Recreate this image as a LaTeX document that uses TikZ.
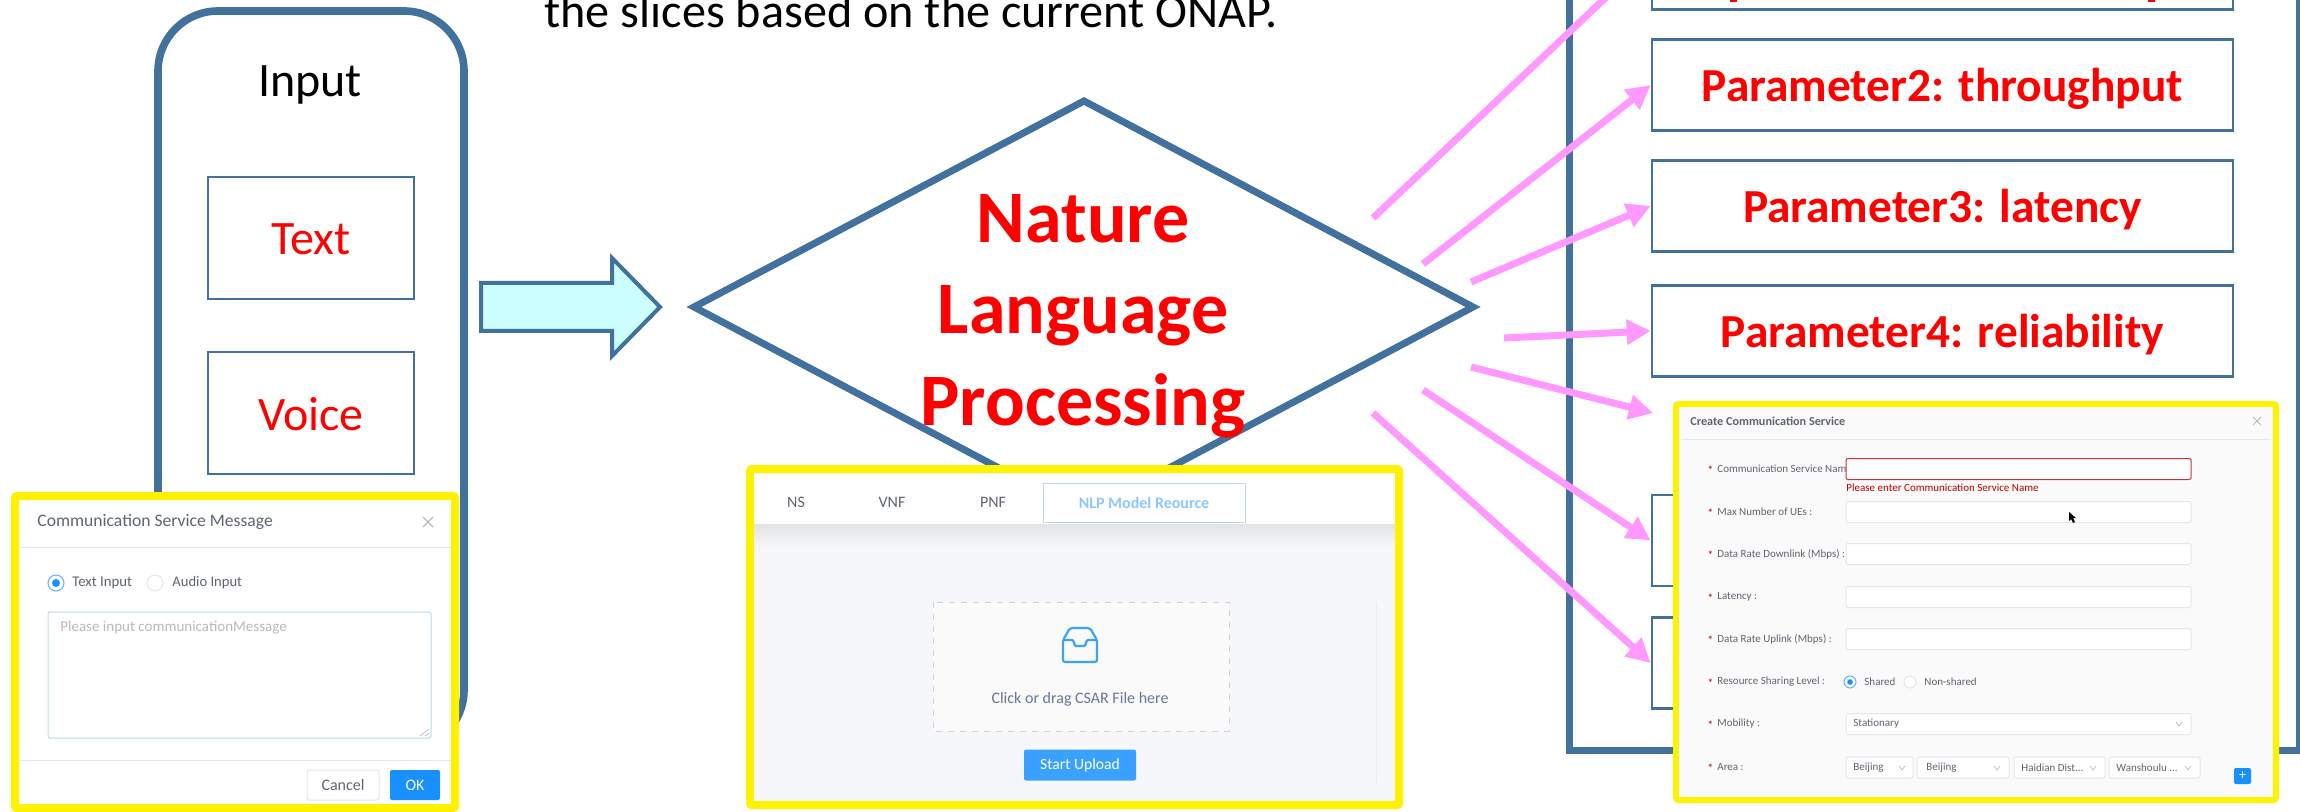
\documentclass[tikz,border=0pt]{standalone}
\usepackage{fontspec}
\setmainfont{Carlito}
\usetikzlibrary{arrows.meta}
\definecolor{frameblue}{HTML}{41719C}
\definecolor{pinkarrow}{HTML}{FF99FF}
\definecolor{panelblue}{HTML}{1890FF}
\definecolor{uitext}{HTML}{5F6570}
\definecolor{uiline}{HTML}{E4E6EA}
\definecolor{softblue}{HTML}{BFD7EA}
\definecolor{uploadbg}{HTML}{F5F7FB}
\definecolor{tabblue}{HTML}{8CC8FF}
\definecolor{cyanfill}{HTML}{CCFFFF}
\definecolor{droptext}{HTML}{6A75A0}
\tikzset{
  x=0.5pt,y=-0.5pt,
  frame/.style={draw=frameblue,line width=3.8pt,fill=white},
  itembox/.style={draw=frameblue,line width=1.3pt,fill=white,minimum width=103pt,minimum height=61pt,inner sep=0pt,text=red,text height=17pt,text depth=0pt,font=\fontsize{24}{24}\selectfont},
  parambox/.style={draw=frameblue,line width=1.3pt,fill=white,minimum width=290.5pt,minimum height=45.5pt,inner sep=0pt,text=red,text height=16.5pt,text depth=0pt,font=\bfseries\fontsize{23.7}{23.7}\selectfont},
  nlptext/.style={inner sep=0pt,anchor=base,text=red,font=\bfseries\fontsize{37}{37}\selectfont},
  pinkline/.style={draw=pinkarrow,line width=3.5pt,-{Triangle[length=12pt,width=12pt]}},
  panel/.style={draw=yellow,line width=4pt,fill=white,rounded corners=1pt},
  ui/.style={inner sep=0pt,anchor=west,text=uitext,font=\fontsize{#1}{#1}\selectfont},
  ui/.default=5.5,
  field/.style={draw=uiline,line width=0.5pt,fill=white,rounded corners=1pt},
  radio/.style={draw=uiline,line width=0.5pt,fill=white},
  chev/.style={draw=gray!55,line width=0.35pt},
}
\begin{document}
\begin{tikzpicture}
\useasboundingbox (0,0) rectangle (2300,812);
\clip (0,0) rectangle (2300,812);
% title line
\node[inner sep=0pt,anchor=base west,font=\fontsize{24.1}{24.1}\selectfont] (head) at (544,28) {the slices based on the current ONAP.};
% input column
\draw[frame,rounded corners=30pt] (158,11) rectangle (464,750);
\node[inner sep=0pt,font=\fontsize{24}{24}\selectfont,anchor=base] (inputlabel) at (310,97) {Input};
\node[itembox] (textbox) at (311,238) {Text};
\node[itembox] (voicebox) at (311,413) {Voice};
% block arrow
\draw[draw=frameblue,line width=2pt,fill=cyanfill,line join=miter] (481,283) -- (612,283) -- (612,258) -- (660,307) -- (612,356) -- (612,331) -- (481,331) -- cycle;
% diamond
\draw[draw=frameblue,line width=3.5pt,fill=white,line join=miter] (694,307) -- (1084,101) -- (1473,307) -- (1084,513) -- cycle;
\node[nlptext] (nlp1) at (1083,243) {Nature};
\node[nlptext] (nlp2) at (1083,334) {Language};
\node[nlptext] (nlp3) at (1083,425) {Processing};
% parameter frame
\draw[frame,line width=3.5pt] (1569,-40) rectangle (2299,750.5);
\node[parambox] (p1) at (1942.5,-36) {};
\fill[red] (1730,0) rectangle (1736.5,2);
\fill[red] (2148,0) rectangle (2154.5,2);
\node[parambox] (p2) at (1942.5,85) {Parameter2: throughput};
\node[parambox] (p3) at (1942.5,206) {Parameter3: latency};
\node[parambox] (p4) at (1942.5,331) {Parameter4: reliability};
\node[parambox] (p5) at (1942.5,540.5) {};
\node[parambox] (p6) at (1942.5,663) {};
% pink arrows
\coordinate (s1) at (1373,218);
\coordinate (s2) at (1423,264);
\coordinate (s3) at (1471,282);
\coordinate (s4) at (1504,338);
\coordinate (s5) at (1471,367);
\coordinate (s6) at (1423,390);
\coordinate (s7) at (1373,413);
\coordinate (t5) at (1653,413);
\draw[pinkline] (s1) -- ([yshift=4.5pt]p1.west);
\draw[pinkline] (s2) -- (p2.west);
\draw[pinkline] (s3) -- (p3.west);
\draw[pinkline] (s4) -- (p4.west);
\draw[pinkline] (s5) -- (t5);
\draw[pinkline] (s6) -- (p5.west);
\draw[pinkline] (s7) -- (p6.west);
% message panel
\draw[panel] (15,496) rectangle (455,808);
\node[ui=8.8] (m1) at (37,522) {Communication Service Message};
\draw[chev,line width=0.6pt] (423,517) -- (433,527) (433,517) -- (423,527);
\draw[uiline,line width=0.5pt] (20,547) -- (451,547);
\node[radio,draw=panelblue!70,circle,minimum size=8pt,inner sep=0pt] (r1) at (56,583) {};
\fill[panelblue] (r1.center) circle (2pt);
\node[ui=7.4] (m2) at (72,583) {Text Input};
\node[radio,circle,minimum size=8pt,inner sep=0pt] (r2) at (155,583) {};
\node[ui=7.3] (m3) at (172,583) {Audio Input};
\draw[field,draw=softblue] (48,612) rectangle (431,738);
\node[ui=7.5,text=gray!55] (m4) at (60,628) {Please input communicationMessage};
\draw[gray!60,line width=0.3pt] (420,736) -- (429,729) (425,736) -- (429,733);
\draw[uiline,line width=0.5pt] (20,760) -- (451,760);
\node[field,minimum width=36pt,minimum height=15pt,inner sep=0pt,text=uitext,font=\fontsize{8}{8}\selectfont] (cancel) at (343,785) {Cancel};
\node[fill=panelblue,rounded corners=1pt,minimum width=25pt,minimum height=15pt,inner sep=0pt,text=white,font=\fontsize{8}{8}\selectfont] (ok) at (415,785) {OK};
% upload panel
\draw[panel] (750,469) rectangle (1399,805);
\fill[uploadbg] (754,524) rectangle (1395,801);
\shade[top color=gray!22,bottom color=uploadbg] (754,524) rectangle (1395,546);
\node[inner sep=0pt,text=uitext,font=\fontsize{8}{8}\selectfont] (tabns) at (796,502) {NS};
\node[inner sep=0pt,text=uitext,font=\fontsize{8}{8}\selectfont] (tabvnf) at (892,502) {VNF};
\node[inner sep=0pt,text=uitext,font=\fontsize{8}{8}\selectfont] (tabpnf) at (993,502) {PNF};
\node[draw=softblue,line width=0.5pt,minimum width=101pt,minimum height=19.5pt,inner sep=0pt,text=tabblue,font=\bfseries\fontsize{8}{8}\selectfont] (tabnlp) at (1144,502.5) {NLP Model Reource};
\draw[gray!35,dashed,line width=0.5pt,fill=gray!4] (933,602) rectangle (1229,731);
\draw[panelblue!85,line width=1.1pt,rounded corners=1pt,line join=round] (1063,662) -- (1063,640) -- (1070,628) -- (1090,628) -- (1097,640) -- (1097,662) -- cycle;
\draw[panelblue!85,line width=1.1pt,rounded corners=0.5pt] (1063,640) -- (1073,640) -- (1075,646) -- (1085,646) -- (1087,640) -- (1097,640);
\node[inner sep=0pt,text=droptext,font=\fontsize{8}{8}\selectfont] (u2) at (1080,699) {Click or drag CSAR File here};
\node[fill=panelblue!85,rounded corners=1pt,minimum width=56pt,minimum height=15.5pt,inner sep=0pt,text=white,font=\fontsize{7.8}{7.8}\selectfont] (startup) at (1080,765) {Start Upload};
\draw[gray!15,line width=0.5pt] (1376,602) -- (1376,783);
% create service panel
\draw[panel,line width=4pt] (1677,405) rectangle (2275,799);
\fill[gray!4] (1679,407) rectangle (2273,797);
\node[ui,font=\bfseries\fontsize{6.1}{6.1}\selectfont] (c0) at (1690,421) {Create Communication Service};
\draw[chev,line width=0.5pt] (2253,417) -- (2261,425) (2261,417) -- (2253,425);
\draw[uiline,line width=0.5pt] (1681,439) -- (2271,439);
\foreach \yy/\nm/\lb in {469/c1/Communication Service Name,512/c2/Max Number of UEs :,554/c3/Data Rate Downlink (Mbps) :,597/c4/Latency :,639/c5/Data Rate Uplink (Mbps) :,682/c6/Resource Sharing Level :,724/c7/Mobility :,767/c8/Area :}{
  \node[ui,text=red!70!black,font=\fontsize{6}{6}\selectfont] (star\nm) at (1707,\yy+1) {*};
  \node[ui] (\nm) at (1717,\yy) {\lb};
}
\foreach \yy in {512,554,597,639,724}{
  \draw[field] (1846,\yy-10.5) rectangle (2191,\yy+10.5);
}
\draw[field,draw=red!60!gray] (1846,458.5) rectangle (2191,479.5);
\node[ui,text=red!75!black] (c9) at (1846,488) {Please enter Communication Service Name};
\fill[black] (2069,512) -- (2069,521) -- (2071,519) -- (2073,523) -- (2075,522) -- (2073,518) -- (2076,518) -- cycle;
\node[radio,draw=panelblue!70,circle,minimum size=6pt,inner sep=0pt] (cr1) at (1850,682) {};
\fill[panelblue] (cr1.center) circle (1.4pt);
\node[ui] (c10) at (1864,682) {Shared};
\node[radio,circle,minimum size=6pt,inner sep=0pt] (cr2) at (1910,682) {};
\node[ui] (c11) at (1924,682) {Non-shared};
\node[ui] (c12) at (1853,724) {Stationary};
\draw[chev] (2176,722) -- (2179,726) -- (2182,722);
\draw[field] (1846,757) rectangle (1913,778);
\draw[field] (1917,757) rectangle (2009,778);
\draw[field] (2014,757) rectangle (2105,778);
\draw[field] (2109,757) rectangle (2200,778);
\node[ui] (c13) at (1853,768) {Beijing};
\node[ui] (c14) at (1926,768) {Beijing};
\node[ui] (c15) at (2021,768) {Haidian Dist...};
\node[ui] (c16) at (2116,768) {Wanshoulu ...};
\draw[chev] (1899,766) -- (1902,770) -- (1905,766);
\draw[chev] (1994,766) -- (1997,770) -- (2000,766);
\draw[chev] (2090,766) -- (2093,770) -- (2096,766);
\draw[chev] (2185,766) -- (2188,770) -- (2191,766);
\node[fill=panelblue,rounded corners=1pt,minimum width=8.5pt,minimum height=8pt,inner sep=0pt,text=white,font=\fontsize{7}{7}\selectfont] (plus) at (2242.5,776) {+};
\end{tikzpicture}
\end{document}
